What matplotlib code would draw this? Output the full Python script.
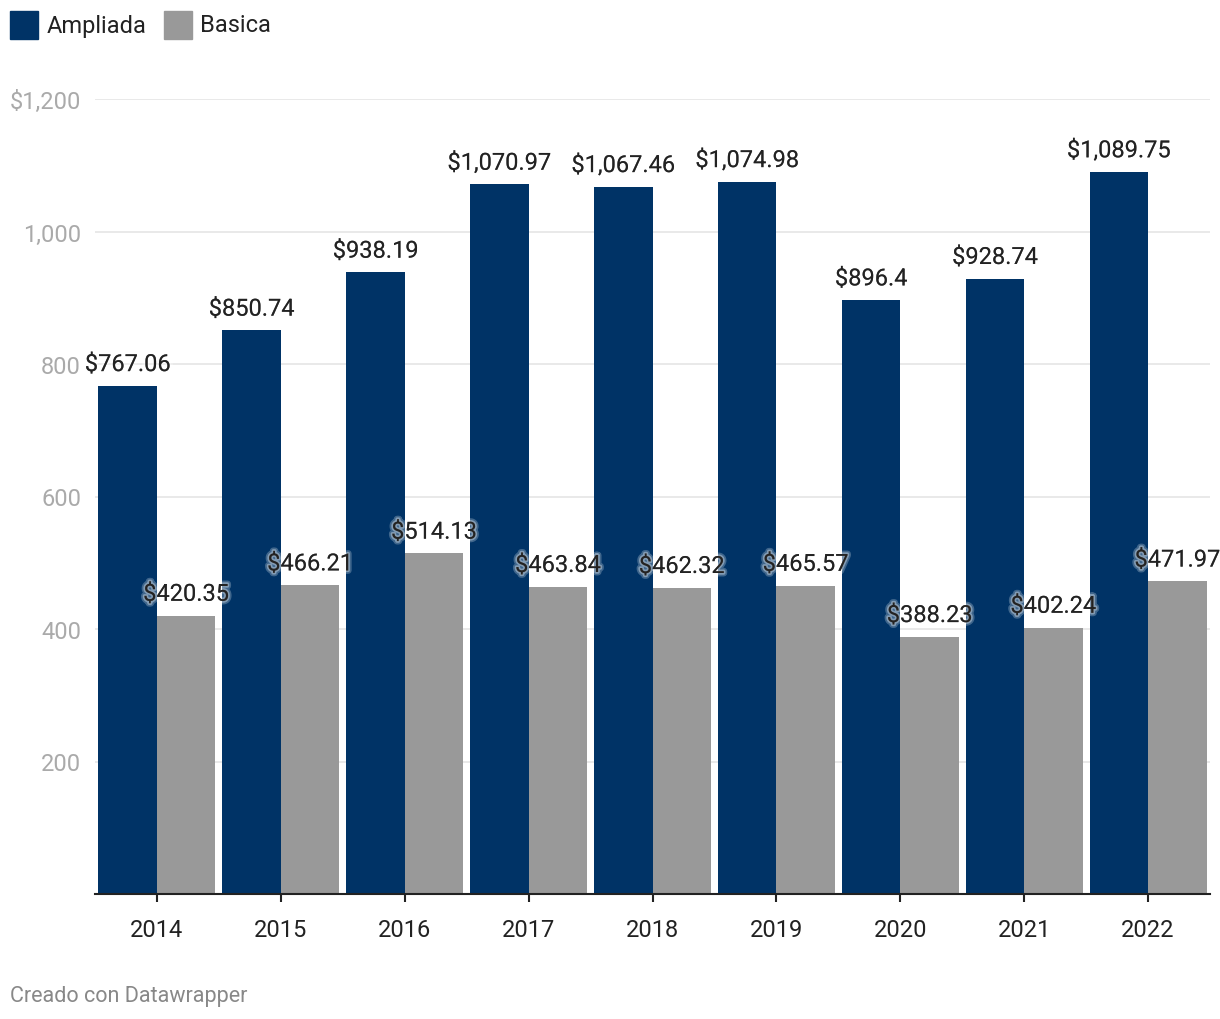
import numpy as np
import matplotlib.pyplot as plt
import matplotlib.patheffects as pe

plt.rcParams['font.family'] = ['Roboto', 'DejaVu Sans']

years = ['2014', '2015', '2016', '2017', '2018', '2019', '2020', '2021', '2022']
ampliada = [767.06, 850.74, 938.19, 1070.97, 1067.46, 1074.98, 896.4, 928.74, 1089.75]
basica = [420.35, 466.21, 514.13, 463.84, 462.32, 465.57, 388.23, 402.24, 471.97]
ampliada_labels = ['$767.06', '$850.74', '$938.19', '$1,070.97', '$1,067.46',
                   '$1,074.98', '$896.4', '$928.74', '$1,089.75']
basica_labels = ['$420.35', '$466.21', '$514.13', '$463.84', '$462.32',
                 '$465.57', '$388.23', '$402.24', '$471.97']
yticks = [200, 400, 600, 800, 1000, 1200]
ytick_labels = ['200', '400', '600', '800', '1,000', '$1,200']

c_amp = '#003366'
c_bas = '#999999'

fig = plt.figure(figsize=(12.2, 10.2), dpi=100)
ax = fig.add_axes([95 / 1220, 125 / 1020, 1115 / 1220, 795 / 1020])

x = np.arange(len(years))
w = 0.472
ax.bar(x - w / 2, ampliada, width=w, color=c_amp, zorder=2)
ax.bar(x + w / 2, basica, width=w, color=c_bas, zorder=2)

# soft white glow around the labels
halo = [pe.withStroke(linewidth=5, foreground='white', alpha=0.25),
        pe.withStroke(linewidth=2.5, foreground='white', alpha=0.35)]
for i in range(len(years)):
    ax.annotate(ampliada_labels[i], (x[i] - w / 2, ampliada[i]), xytext=(0, 7),
                textcoords='offset points', ha='center', va='bottom',
                fontsize=17, color='#222222', zorder=5, annotation_clip=False,
                path_effects=halo)
    ax.annotate(basica_labels[i], (x[i] + w / 2, basica[i]), xytext=(0, 7),
                textcoords='offset points', ha='center', va='bottom',
                fontsize=17, color='#222222', zorder=5, annotation_clip=False,
                path_effects=halo)

ax.set_xlim(-0.5, 8.5)
ax.set_ylim(0, 1200)
ax.set_xticks(x)
ax.set_xticklabels(years, fontsize=17, color='#222222')
ax.set_yticks(yticks)
ax.set_yticklabels(ytick_labels, fontsize=17, color='#aaaaaa')
ax.tick_params(axis='y', length=0, pad=10)
ax.tick_params(axis='x', length=6, width=1.5, color='#222222', pad=11)
ax.grid(axis='y', color='#e5e5e5', linewidth=1.2, zorder=0)
for s in ['top', 'right', 'left']:
    ax.spines[s].set_visible(False)
ax.spines['bottom'].set_color('#222222')
ax.spines['bottom'].set_linewidth(1.5)
ax.spines['bottom'].set_zorder(3)

# legend
fig.patches.append(plt.Rectangle((10 / 1220, 1 - 40 / 1020), 28 / 1220, 28 / 1020,
                                 color=c_amp, transform=fig.transFigure))
fig.text(47 / 1220, 1 - 26 / 1020, 'Ampliada', fontsize=17, color='#222222', va='center')
fig.patches.append(plt.Rectangle((164 / 1220, 1 - 40 / 1020), 28 / 1220, 28 / 1020,
                                 color=c_bas, transform=fig.transFigure))
fig.text(200 / 1220, 1 - 26 / 1020, 'Basica', fontsize=17, color='#222222', va='center')

fig.text(10 / 1220, 1 - 997 / 1020, 'Creado con Datawrapper', fontsize=15.5,
         color='#888888', va='center')

fig.savefig('out.png', dpi=100)
